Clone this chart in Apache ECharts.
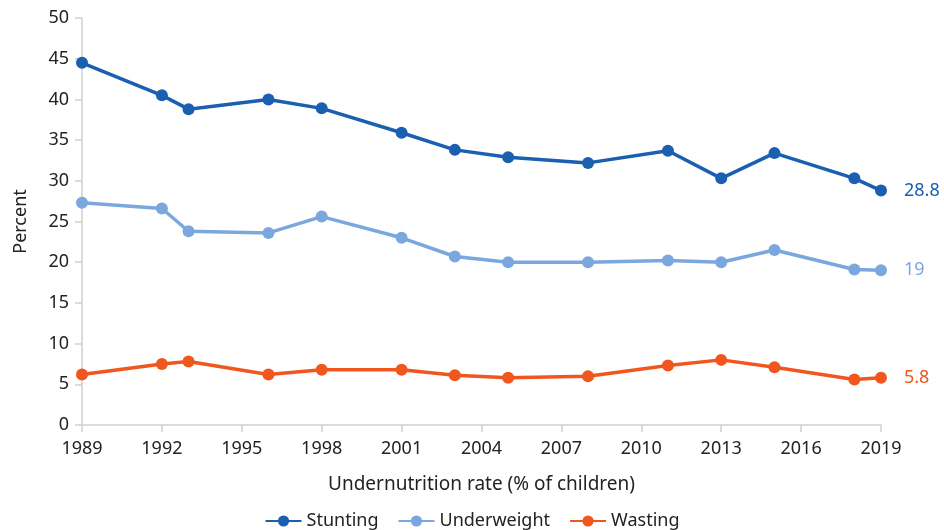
<!DOCTYPE html>
<html>
<head>
<meta charset="utf-8">
<script src="https://cdn.jsdelivr.net/npm/echarts@6/dist/echarts.min.js"></script>
<style>html,body{margin:0;padding:0;background:#fff}#c{width:944px;height:530px}</style>
</head>
<body>
<div id="c"></div>
<script>
const years = [1989, 1992, 1993, 1996, 1998, 2001, 2003, 2005, 2008, 2011, 2013, 2015, 2018, 2019];
const stunting = [44.5, 40.5, 38.8, 40.0, 38.9, 35.9, 33.8, 32.9, 32.2, 33.7, 30.3, 33.4, 30.3, 28.8];
const underweight = [27.3, 26.6, 23.8, 23.6, 25.6, 23.0, 20.7, 20.0, 20.0, 20.2, 20.0, 21.5, 19.1, 19.0];
const wasting = [6.2, 7.5, 7.8, 6.2, 6.8, 6.8, 6.1, 5.8, 6.0, 7.3, 8.0, 7.1, 5.6, 5.8];
const seriesNames = ['Stunting', 'Underweight', 'Wasting'];
const colors = ['#1a5fb0', '#7aa7dd', '#f0561e'];
const xName = 'Undernutrition rate (% of children)';
const yName = 'Percent';

const font = '"Noto Sans", "Open Sans", sans-serif';
const chart = echarts.init(document.getElementById('c'));
function mk(name, data, color) {
  const last = data.length - 1;
  return {
    name, type: 'line', color,
    data: data.map((v, i) => {
      const p = { value: [years[i], v] };
      if (i === last) p.label = { show: true, position: 'right', distance: 17, color, fontSize: 18, fontFamily: font, formatter: () => String(v) };
      return p;
    }),
    symbol: 'circle', symbolSize: 12,
    lineStyle: { width: 3.5, color },
    itemStyle: { color },
    emphasis: { disabled: true },
    animation: false
  };
}
chart.setOption({
  animation: false,
  textStyle: { fontFamily: font },
  grid: { left: 82, right: 63, top: 18, bottom: 105, containLabel: false },
  legend: {
    top: 507, left: 'center', itemWidth: 36, itemHeight: 14, itemGap: 19,
    textStyle: { fontSize: 18, color: '#222', fontFamily: font },
    data: seriesNames
  },
  xAxis: {
    type: 'value', min: 1989, max: 2019, interval: 3,
    name: xName, nameLocation: 'middle', nameGap: 50,
    nameTextStyle: { fontSize: 19, color: '#222', fontFamily: font },
    axisLine: { lineStyle: { color: '#cfcfcf', width: 1.5 } },
    axisTick: { show: true, length: 7, lineStyle: { color: '#cfcfcf', width: 1.5 } },
    axisLabel: { fontSize: 18, color: '#222', margin: 15, fontFamily: font, formatter: v => String(v) },
    splitLine: { show: false }
  },
  yAxis: {
    type: 'value', min: 0, max: 50, interval: 5,
    name: yName, nameLocation: 'middle', nameGap: 52, nameRotate: 90,
    nameTextStyle: { fontSize: 18, color: '#222', fontFamily: font },
    axisLine: { show: true, lineStyle: { color: '#cfcfcf', width: 1.5 } },
    axisTick: { show: true, length: 7, lineStyle: { color: '#cfcfcf', width: 1.5 } },
    axisLabel: { fontSize: 18, color: '#222', margin: 13, fontFamily: font },
    splitLine: { show: false }
  },
  series: [mk(seriesNames[0], stunting, colors[0]), mk(seriesNames[1], underweight, colors[1]), mk(seriesNames[2], wasting, colors[2])]
});
</script>
</body>
</html>
